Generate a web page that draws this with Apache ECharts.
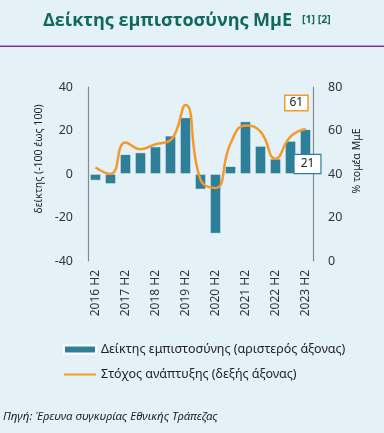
<!DOCTYPE html>
<html><head><meta charset="utf-8">
<script src="https://cdn.jsdelivr.net/npm/echarts@6/dist/echarts.min.js"></script>
<style>html,body{margin:0;padding:0;background:#E4F2F8;}#c{width:384px;height:433px;}</style>
</head><body><div id="c"></div>
<script>
const categories = ['2016 H2','2017 H1','2017 H2','2018 H1','2018 H2','2019 H1','2019 H2','2020 H1','2020 H2','2021 H1','2021 H2','2022 H1','2022 H2','2023 H1','2023 H2'];
const confidenceIndex = [-3.0,-4.6,9.1,9.9,12.6,17.6,26.0,-7.1,-27.4,3.6,24.2,12.9,7.0,15.2,20.6];
const growthTarget = [43.0,40.0,54.5,51.4,53.7,55.5,71.7,37.4,33.6,54.0,62.3,59.5,47.0,57.2,60.7];
const leftTicks = {min:-40, max:40, interval:20};
const rightTicks = {min:0, max:80, interval:20};
const barName = 'Δείκτης εμπιστοσύνης (αριστερός άξονας)';
const lineName = 'Στόχος ανάπτυξης (δεξής άξονας)';
const leftAxisName = 'δείκτης (-100 έως 100)';
const rightAxisName = '% τομέα ΜμΕ';

const font = '"Noto Sans", "Open Sans", sans-serif';
const chart = echarts.init(document.getElementById('c'), null, {renderer:'canvas'});
const last = categories.length - 1;
const barData = confidenceIndex.map((v,i) => i === last ? {value:v, label:{show:true, position:'insideBottom', distance:3, offset:[2,2], formatter:()=>Math.round(v)+'', backgroundColor:'#fff', borderColor:'#2E7F9A', borderWidth:1.2, padding:[3,6], color:'#222', fontSize:12, fontFamily:font}} : v);

chart.setOption({
  backgroundColor:'#E4F2F8',
  animation:false,
  textStyle:{fontFamily:font},
  graphic:[
    {type:'text', left:43, top:12, style:{text:'Δείκτης εμπιστοσύνης ΜμΕ', font:'bold 18px "Open Sans", sans-serif', fill:'#10695C'}},
    {type:'text', left:302, top:15, style:{text:'[1] [2]', font:'bold 10.5px "Open Sans", sans-serif', fill:'#10695C'}},
    {type:'rect', shape:{x:0, y:45.5, width:384, height:1.6}, style:{fill:'#86338C'}},
    {type:'text', x:39, y:159, rotation:Math.PI/2, style:{text:leftAxisName, font:'10.5px "Noto Sans", sans-serif', fill:'#222', align:'center', verticalAlign:'middle'}},
    {type:'text', x:357, y:161, rotation:Math.PI/2, style:{text:rightAxisName, font:'10.5px "Noto Sans", sans-serif', fill:'#222', align:'center', verticalAlign:'middle'}},
    {type:'text', left:3, top:411, style:{text:'Πηγή: Έρευνα συγκυρίας Εθνικής Τράπεζας', font:'italic 11.5px "Noto Sans", sans-serif', fill:'#222'}}
  ],
  legend:{
    orient:'vertical', left:58, top:338, itemWidth:32, itemHeight:8, itemGap:12,
    textStyle:{fontSize:12.5, color:'#222', fontFamily:font},
    data:[{name:barName, icon:'rect'}, {name:lineName, itemStyle:{opacity:0}}]
  },
  grid:{left:88, right:71, top:87, bottom:172, containLabel:false},
  xAxis:{
    type:'category', data:categories,
    axisLine:{show:false}, axisTick:{show:false},
    axisLabel:{rotate:90, interval:1, margin:9, fontSize:12, color:'#333', fontFamily:font}
  },
  yAxis:[
    {type:'value', min:leftTicks.min, max:leftTicks.max, interval:leftTicks.interval, position:'left',
     axisLine:{show:true, lineStyle:{color:'#8a8a8a', width:1.2}}, axisTick:{show:false},
     splitLine:{show:false}, axisLabel:{fontSize:12.5, color:'#333', margin:15, fontFamily:font}},
    {type:'value', min:rightTicks.min, max:rightTicks.max, interval:rightTicks.interval, position:'right',
     axisLine:{show:true, lineStyle:{color:'#8a8a8a', width:1.2}}, axisTick:{show:false},
     splitLine:{show:false}, axisLabel:{fontSize:12.5, color:'#333', margin:15, fontFamily:font}}
  ],
  series:[
    {name:barName, type:'bar', yAxisIndex:0, data:barData, barWidth:11,
     itemStyle:{color:'#2E7F9A', borderColor:'#ffffff', borderWidth:0.6}, z:2},
    {name:lineName, type:'line', yAxisIndex:1, data:growthTarget, smooth:0.5,
     symbol:'none', showSymbol:false,
     endLabel:{show:true, position:'top', offset:[-28,-26], formatter:(p)=>Math.round(p.value)+'', backgroundColor:'#fff', borderColor:'#F39A2B', borderWidth:1.5, padding:[1,4], color:'#222', fontSize:12, fontFamily:font},
     lineStyle:{color:'#F39A2B', width:2.5}, itemStyle:{color:'#F39A2B'}, z:3}
  ]
});
</script></body></html>
